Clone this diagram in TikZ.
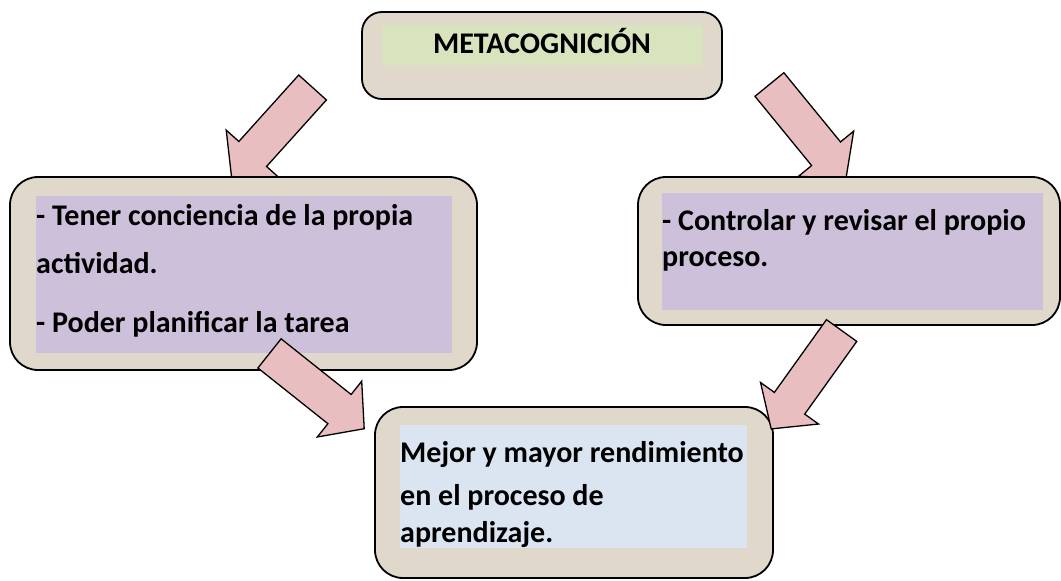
\documentclass[tikz,border=0pt]{standalone}
\usepackage{fontspec}
\setmainfont{Carlito}
\usetikzlibrary{shapes.arrows}
\definecolor{beige}{RGB}{224,216,202}
\definecolor{verde}{RGB}{215,228,189}
\definecolor{lila}{RGB}{204,192,218}
\definecolor{celeste}{RGB}{219,229,241}
\definecolor{rosa}{RGB}{233,190,192}
\begin{document}
\begin{tikzpicture}[
        x=1pt,
        y=-1pt,
        font=\bfseries\fontsize{30}{36}\selectfont
    ]
    \tikzset{
        caja/.style = {rectangle, rounded corners=28pt, draw=black, line width=1.8pt, fill=beige, inner sep=0pt},
        interior/.style = {rectangle, draw=none, inner sep=0pt},
        texto/.style = {anchor=base west, inner sep=0pt},
        flecha/.style = {single arrow, draw=black, line width=1.3pt, fill=rosa, anchor=tail,
            inner xsep=0pt, inner ysep=18pt, minimum width=70pt, minimum height=121pt,
            single arrow head extend=17pt, single arrow tip angle=97},
    }
    \useasboundingbox (0,0) rectangle (1061,581);
    % flechas de arriba
    \node[flecha, rotate=-132] at (313,87) (f1) {};
    \node[flecha, rotate=-50.7] at (769,84) (f2) {};
    %
    \node[caja, rounded corners=20pt, minimum width=360pt, minimum height=87pt] at (542,55.5) (meta) {};
    \node[interior, fill=verde, minimum width=321pt, minimum height=40pt] at (542.5,45) (imeta) {};
    \node[anchor=base, inner sep=0pt] at (542,53) (tmeta) {METACOGNICIÓN};
    %
    \node[caja, minimum width=467pt, minimum height=193pt] at (243.5,273.5) (izq) {};
    \node[interior, fill=lila, minimum width=416pt, minimum height=157pt] at (244,274.5) (iizq) {};
    \node[texto] at (36,225) (izq1) {- Tener conciencia de la propia};
    \node[texto] at (36,273) (izq2) {actividad.};
    \node[texto] at (36,332) (izq3) {- Poder planificar la tarea};
    %
    \node[caja, minimum width=422pt, minimum height=148pt] at (849,251) (der) {};
    \node[interior, fill=lila, minimum width=381pt, minimum height=117pt] at (852.5,251.5) (ider) {};
    \node[texto] at (662,230) (der1) {- Controlar y revisar el propio};
    \node[texto] at (662,266) (der2) {proceso.};
    %
    \node[caja, minimum width=398pt, minimum height=171pt] at (574,492.5) (abajo) {};
    \node[interior, fill=celeste, minimum width=347pt, minimum height=123pt] at (573.5,486.5) (iabajo) {};
    \node[texto] at (400,462) (abajo1) {Mejor y mayor rendimiento};
    \node[texto] at (400,505) (abajo2) {en el proceso de};
    \node[texto] at (400,542) (abajo3) {aprendizaje.};
    % flechas de abajo
    \node[flecha, rotate=-38.5] at (269,353) (f3) {};
    \node[flecha, rotate=-125.6] at (842,330) (f4) {};
\end{tikzpicture}
\end{document}
